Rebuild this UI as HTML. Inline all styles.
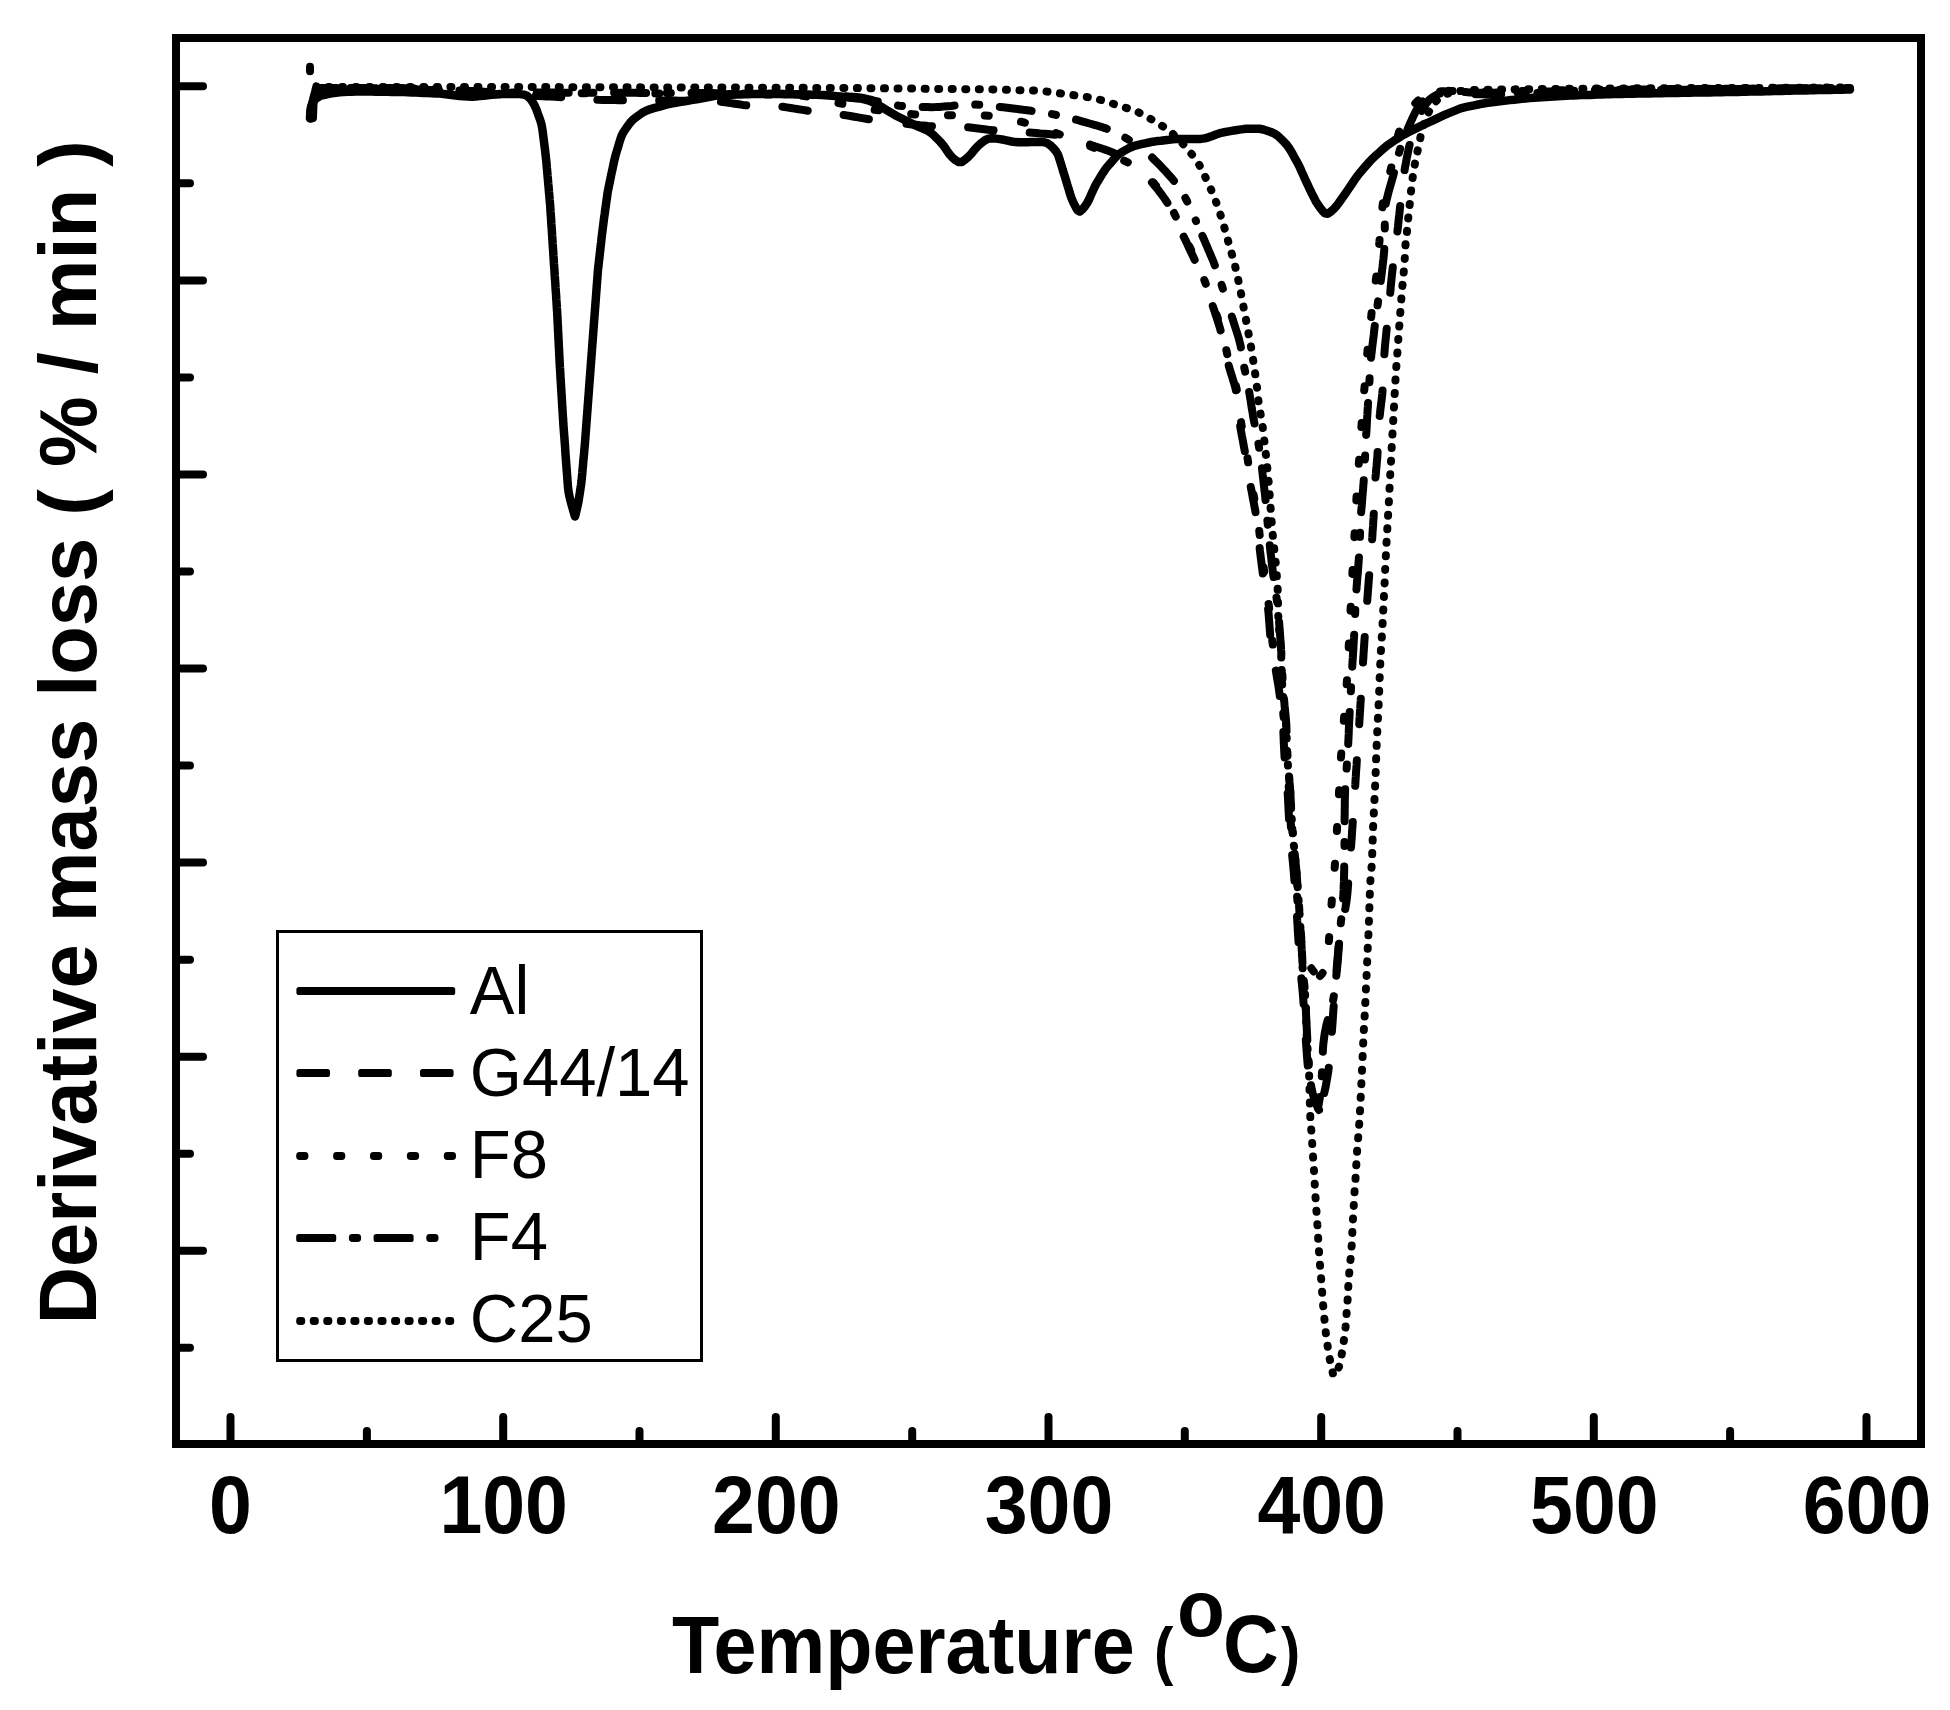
<!DOCTYPE html>
<html lang="en"><head><meta charset="utf-8"><title>Derivative mass loss vs Temperature</title>
<style>html,body{margin:0;padding:0;background:#fff}body{width:1950px;height:1710px;overflow:hidden}svg{display:block}text{font-family:"Liberation Sans",sans-serif;fill:#000}.b{font-weight:bold}.c{fill:none;stroke:#000;stroke-width:8;stroke-linejoin:round}</style></head><body>
<svg width="1950" height="1710" viewBox="0 0 1950 1710">
<rect width="1950" height="1710" fill="#fff"/>
<g class="c" stroke-linecap="round">
<path d="M318,87 322,87 326,87 330,87 334,87 338,87 342,87 346,87 350,87 354,87 358,87 362,87 366,87 370,87 374,87 378,87 382,87 386,87 390,87 394,87 398,87 402,87 406,87 410,87 414,87 418,87 422,87 426,87 430,87 434,87 438,87 442,87 446,87 450,87 454,87 458,87 462,87 466,87 470,87 474,87 478,87 482,87 486,87 490,87 494,87 498,87 502,87 506,87 510,87 514,87 518,87 522,87.1 526.1,87.1 530.1,87.1 534.1,87.1 538.1,87.1 542.1,87.1 546.1,87.1 550.1,87.1 554.1,87.1 558.1,87.1 562.1,87.2 566.1,87.2 570.1,87.2 574.1,87.2 578.1,87.2 582.1,87.2 586.1,87.2 590.1,87.2 594.1,87.2 598.1,87.2 602.1,87.3 606.1,87.3 610.1,87.3 614.1,87.3 618.1,87.3 622.1,87.3 626.1,87.3 630.1,87.3 634.1,87.3 638.1,87.3 642.1,87.4 646.1,87.4 650.1,87.4 654.1,87.4 658.1,87.4 662.1,87.4 666.1,87.4 670.1,87.4 674.1,87.4 678.1,87.4 682.1,87.5 686.1,87.5 690.1,87.5 694.1,87.5 698.1,87.5 702.1,87.5 706.1,87.5 710.1,87.5 714.1,87.5 718.1,87.6 722.1,87.6 726.1,87.6 730.1,87.6 734.1,87.6 738.1,87.6 742.1,87.6 746.1,87.7 750.1,87.7 754.1,87.7 758.1,87.7 762.1,87.7 766.1,87.7 770.1,87.7 774.1,87.7 778.1,87.8 782.1,87.8 786.1,87.8 790.1,87.8 794.1,87.8 798.1,87.8 802.1,87.8 806.1,87.9 810.1,87.9 814.1,87.9 818.1,87.9 822.1,87.9 826.1,87.9 830.1,87.9 834.1,87.9 838.1,88 842.1,88 846.1,88 850.1,88 854.1,88 858.1,88.1 862.1,88.1 866.1,88.2 870.1,88.2 874.1,88.2 878.1,88.3 882.1,88.3 886.1,88.4 890.1,88.4 894.1,88.4 898.1,88.5 902.1,88.5 906.1,88.6 910.1,88.6 914.1,88.6 918.1,88.7 922.1,88.7 926.1,88.8 930.1,88.8 934.1,88.8 938.1,88.9 942.1,88.9 946.1,89 950.1,89 954.1,89 958.1,89.1 962.1,89.1 966.1,89.2 970.2,89.2 974.2,89.2 978.2,89.3 982.2,89.3 986.2,89.4 990.2,89.4 994.2,89.5 998.2,89.5 1002.2,89.6 1006.2,89.7 1010.2,89.8 1014.2,89.9 1018.2,90.1 1022.2,90.2 1026.1,90.3 1030.1,90.4 1034.1,90.6 1038.1,90.8 1042.1,91.1 1046.1,91.5 1050.1,91.9 1054,92.5 1058,93 1062,93.6 1065.9,94.1 1069.9,94.6 1073.9,95.2 1077.8,95.7 1081.8,96.2 1085.7,96.8 1089.7,97.4 1093.6,98.1 1097.5,99 1101.3,100.1 1105.2,101.2 1109,102.5 1112.8,103.7 1116.6,105 1120.4,106.2 1124.2,107.4 1128,108.5 1131.8,109.8 1135.5,111.1 1139.2,112.7 1142.7,114.5 1146.3,116.4 1149.7,118.4 1153.2,120.4 1156.7,122.4 1160.1,124.5 1163.4,126.7 1166.7,129 1169.8,131.4 1172.9,133.9 1175.9,136.6 1178.8,139.3 1181.5,142.2 1184.2,145.2 1186.9,148.2 1189.4,151.3 1191.9,154.4 1194.3,157.6 1196.7,160.8 1198.8,164.1 1200.8,167.6 1202.6,171.1 1204.3,174.8 1205.9,178.4 1207.6,182 1209.2,185.7 1210.9,189.3 1212.5,193 1214,196.7 1215.5,200.4 1216.9,204.2 1218.3,207.9 1219.5,211.7 1220.7,215.5 1221.9,219.4 1223,223.2 1224.2,227 1225.3,230.9 1226.3,234.7 1227.4,238.6 1228.5,242.4 1229.6,246.3 1230.7,250.1 1231.8,254 1232.9,257.8 1234,261.7 1235,265.5 1235.9,269.4 1236.8,273.3 1237.7,277.2 1238.5,281.1 1239.4,285.1 1240.2,289 1240.9,292.9 1241.6,296.8 1242.3,300.8 1243.1,304.7 1243.8,308.6 1244.6,312.6 1245.3,316.5 1246.1,320.4 1246.9,324.4 1247.6,328.3 1248.3,332.2 1249,336.2 1249.7,340.1 1250.5,344 1251.2,348 1251.8,351.9 1252.5,355.9 1253.1,359.8 1253.7,363.8 1254.3,367.7 1254.9,371.7 1255.4,375.6 1256,379.6 1256.5,383.6 1257,387.5 1257.4,391.5 1257.9,395.5 1258.3,399.5 1258.8,403.4 1259.4,407.4 1260,411.3 1260.8,415.3 1261.5,419.2 1262.2,423.1 1262.7,427.1 1263.2,431.1 1263.7,435 1264.1,439 1264.6,443 1265,447 1265.4,450.9 1265.9,454.9 1266.3,458.9 1266.7,462.9 1267.2,466.8 1267.6,470.8 1268,474.8 1268.4,478.8 1268.7,482.8 1269,486.8 1269.3,490.8 1269.6,494.7 1269.9,498.7 1270.2,502.7 1270.5,506.7 1270.8,510.7 1271.1,514.7 1271.4,518.7 1271.7,522.7 1272,526.7 1272.3,530.6 1272.7,534.6 1273.1,538.6 1273.6,542.6 1274,546.6 1274.4,550.5 1274.9,554.5 1275.3,558.5 1275.6,562.5 1276,566.5 1276.3,570.5 1276.7,574.4 1277,578.4 1277.3,582.4 1277.6,586.4 1277.7,590.4 1277.8,594.4 1277.9,598.4 1278,602.4 1278.1,606.4 1278.1,610.4 1278.2,614.4 1278.4,618.4 1278.6,622.4 1278.9,626.4 1279.2,630.4 1279.5,634.4 1279.9,638.3 1280.2,642.3 1280.5,646.3 1280.8,650.3 1281.1,654.3 1281.3,658.3 1281.5,662.3 1281.6,666.3 1281.7,670.3 1281.9,674.3 1282,678.3 1282.1,682.3 1282.3,686.3 1282.6,690.3 1282.9,694.2 1283.4,698.2 1283.8,702.2 1284.3,706.2 1284.8,710.1 1285.2,714.1 1285.6,718.1 1286,722.1 1286.3,726.1 1286.5,730 1286.6,734 1286.7,738 1286.8,742 1286.9,746 1287.1,750 1287.2,754 1287.4,758 1287.7,762 1288,766 1288.4,770 1288.8,774 1289.1,778 1289.5,781.9 1289.9,785.9 1290.2,789.9 1290.4,793.9 1290.6,797.9 1290.9,801.9 1291.1,805.9 1291.3,809.9 1291.5,813.9 1291.7,817.9 1291.9,821.9 1292.1,825.9 1292.4,829.9 1292.8,833.8 1293.1,837.8 1293.5,841.8 1293.9,845.8 1294.3,849.8 1294.7,853.7 1295.1,857.7 1295.5,861.7 1295.9,865.7 1296.3,869.7 1296.6,873.7 1296.9,877.7 1297.2,881.6 1297.5,885.6 1297.8,889.6 1298.1,893.6 1298.4,897.6 1298.7,901.6 1299,905.6 1299.3,909.6 1299.5,913.6 1299.8,917.6 1300,921.6 1300.3,925.5 1300.5,929.5 1300.8,933.5 1301,937.5 1301.3,941.5 1301.5,945.5 1301.7,949.5 1301.9,953.5 1302.1,957.5 1302.2,961.5 1302.4,965.5 1302.7,969.5 1303,973.5 1303.4,977.4 1303.8,981.4 1304.3,985.4 1304.7,989.4 1305,993.4 1305.3,997.3 1305.5,1001.3 1305.6,1005.3 1305.8,1009.3 1305.9,1013.3 1306,1017.3 1306.2,1021.3 1306.3,1025.3 1306.5,1029.3 1306.6,1033.3 1306.8,1037.3 1307,1041.3 1307.3,1045.3 1307.6,1049.3 1307.9,1053.3 1308.2,1057.3 1308.5,1061.3 1308.8,1065.3 1308.9,1069.2 1309.1,1073.2 1309.2,1077.2 1309.3,1081.2 1309.4,1085.2 1309.5,1089.2 1309.6,1093.2 1309.7,1097.2 1309.8,1101.2 1309.9,1105.2 1310,1109.2 1310.2,1113.2 1310.3,1117.2 1310.6,1121.2 1310.9,1125.2 1311.2,1129.2 1311.5,1133.2 1311.8,1137.2 1312.1,1141.2 1312.3,1145.2 1312.6,1149.2 1312.9,1153.2 1313.1,1157.1 1313.4,1161.1 1313.6,1165.1 1313.9,1169.1 1314.1,1173.1 1314.3,1177.1 1314.6,1181.1 1314.8,1185.1 1315,1189.1 1315.3,1193.1 1315.5,1197.1 1315.8,1201.1 1316.1,1205.1 1316.3,1209.1 1316.6,1213 1316.9,1217 1317.2,1221 1317.4,1225 1317.7,1229 1317.9,1233 1318.1,1237 1318.3,1241 1318.6,1245 1318.8,1249 1319.1,1253 1319.4,1257 1319.7,1261 1320,1264.9 1320.3,1268.9 1320.7,1272.9 1321,1276.9 1321.3,1280.9 1321.6,1284.9 1321.9,1288.9 1322.2,1292.9 1322.5,1296.9 1322.8,1300.8 1323.1,1304.8 1323.5,1308.8 1323.8,1312.8 1324.2,1316.8 1324.6,1320.8 1325,1324.8 1325.4,1328.7 1325.8,1332.7 1326.3,1336.7 1326.8,1340.6 1327.4,1344.6 1328,1348.6 1328.6,1352.5 1329.3,1356.5 1330,1360.4 1330.8,1364.3 1331.7,1368.2 1332.6,1372.1 1333.5,1376" stroke-dasharray="1 12.55" stroke-dashoffset="3.1"/>
<path d="M1333.5,1376 1335.8,1372.8 1337.8,1369.5 1339.3,1365.9 1340.3,1362.2 1341.1,1358.3 1341.7,1354.3 1342.4,1350.4 1343,1346.4 1343.6,1342.5 1344.1,1338.5 1344.7,1334.5 1345.2,1330.6 1345.6,1326.6 1345.9,1322.6 1346.2,1318.6 1346.5,1314.6 1346.8,1310.6 1347.1,1306.6 1347.4,1302.6 1347.7,1298.6 1347.9,1294.6 1348.1,1290.6 1348.3,1286.6 1348.5,1282.7 1348.8,1278.7 1349.1,1274.7 1349.4,1270.7 1349.8,1266.7 1350.2,1262.7 1350.6,1258.7 1351,1254.7 1351.3,1250.8 1351.6,1246.8 1351.9,1242.8 1352,1238.8 1352.2,1234.8 1352.4,1230.8 1352.6,1226.8 1352.8,1222.8 1353,1218.8 1353.2,1214.8 1353.4,1210.8 1353.7,1206.8 1353.9,1202.8 1354.1,1198.8 1354.4,1194.8 1354.6,1190.8 1354.9,1186.8 1355.2,1182.8 1355.5,1178.8 1355.8,1174.8 1356,1170.8 1356.2,1166.8 1356.4,1162.8 1356.6,1158.8 1356.9,1154.8 1357.1,1150.8 1357.4,1146.8 1357.8,1142.9 1358.1,1138.9 1358.4,1134.9 1358.7,1130.9 1359,1126.9 1359.3,1122.9 1359.5,1118.9 1359.8,1114.9 1360,1110.9 1360.2,1106.9 1360.4,1102.9 1360.6,1098.9 1360.8,1094.9 1361,1090.9 1361.2,1086.9 1361.4,1082.9 1361.6,1078.9 1361.8,1074.9 1362,1070.9 1362.1,1066.9 1362.3,1062.9 1362.5,1058.9 1362.7,1054.9 1362.9,1050.9 1363,1046.9 1363.2,1042.9 1363.4,1038.9 1363.6,1034.9 1363.8,1030.9 1364,1026.9 1364.3,1022.9 1364.5,1018.9 1364.7,1014.9 1364.9,1010.9 1365.1,1006.9 1365.3,1002.9 1365.5,998.9 1365.7,994.9 1365.8,990.9 1366,986.9 1366.2,982.9 1366.4,978.9 1366.6,974.9 1366.7,970.9 1366.9,966.9 1367.1,962.9 1367.3,958.9 1367.5,954.9 1367.6,950.9 1367.8,946.9 1368,942.9 1368.2,938.9 1368.4,934.9 1368.5,930.9 1368.7,926.9 1368.9,922.9 1369,918.9 1369.2,914.9 1369.3,910.9 1369.4,906.9 1369.5,902.9 1369.7,898.9 1369.8,894.9 1369.9,890.9 1370.1,886.9 1370.3,882.9 1370.5,878.9 1370.9,874.9 1371.2,871 1371.6,867 1371.8,863 1372,859 1372.2,855 1372.3,851 1372.4,847 1372.6,843 1372.7,839 1372.9,835 1373,831 1373.1,827 1373.3,823 1373.5,819 1373.7,815 1373.9,811 1374.1,807 1374.3,803 1374.5,799 1374.7,795 1374.9,791 1375.1,787 1375.2,783 1375.4,779 1375.6,775 1375.7,771 1375.8,767 1376,763 1376.1,759 1376.3,755 1376.4,751 1376.6,747 1376.7,743 1376.9,739 1377.1,735 1377.3,731 1377.5,727 1377.7,723 1377.9,719 1378.1,715 1378.3,711 1378.5,707 1378.7,703 1378.9,699 1379,695 1379.2,691 1379.3,687 1379.5,683 1379.6,679 1379.8,675 1379.9,671 1380.1,667 1380.3,663 1380.5,659 1380.7,655 1380.9,651 1381.2,647 1381.4,643 1381.7,639 1381.9,635 1382.1,631 1382.4,627 1382.6,623 1382.8,619 1383,615 1383.2,611 1383.4,607 1383.6,603 1383.8,599 1384,595 1384.2,591 1384.4,587 1384.6,583 1384.8,579 1385,575 1385.1,571 1385.3,567 1385.5,563 1385.7,559 1385.9,555 1386.1,551 1386.3,547 1386.5,543 1386.7,539 1386.9,535 1387.2,531 1387.4,527 1387.6,523 1387.9,519 1388.1,515 1388.4,511 1388.6,507 1388.8,503 1389,499 1389.2,495 1389.4,491 1389.6,487.1 1389.8,483.1 1390,479.1 1390.2,475.1 1390.4,471.1 1390.7,467.1 1390.9,463.1 1391.1,459.1 1391.3,455.1 1391.5,451.1 1391.7,447.1 1391.9,443.1 1392.2,439.1 1392.4,435.1 1392.6,431.1 1392.8,427.1 1393.1,423.1 1393.3,419.1 1393.5,415.1 1393.7,411.1 1394,407.1 1394.2,403.1 1394.4,399.1 1394.6,395.1 1394.9,391.1 1395.1,387.1 1395.3,383.1 1395.5,379.1 1395.8,375.1 1396.1,371.1 1396.3,367.1 1396.6,363.1 1396.9,359.1 1397.2,355.1 1397.5,351.2 1397.8,347.2 1398.1,343.2 1398.3,339.2 1398.6,335.2 1398.9,331.2 1399.2,327.2 1399.5,323.2 1399.8,319.2 1400.1,315.2 1400.4,311.2 1400.7,307.2 1401,303.2 1401.3,299.2 1401.6,295.2 1402,291.3 1402.3,287.3 1402.7,283.3 1403.1,279.3 1403.5,275.3 1403.8,271.3 1404.1,267.3 1404.4,263.3 1404.7,259.3 1404.9,255.4 1405.1,251.4 1405.3,247.4 1405.6,243.4 1406,239.4 1406.5,235.4 1407,231.4 1407.4,227.5 1407.8,223.5 1408.1,219.5 1408.5,215.5 1408.8,211.5 1409.3,207.6 1409.8,203.6 1410.2,199.6 1410.6,195.6 1411,191.6 1411.4,187.7 1411.9,183.7 1412.4,179.7 1412.9,175.7 1413.5,171.8 1414.2,167.8 1414.9,163.9 1415.6,160 1416.5,156.1 1417.3,152.1 1418.2,148.2 1419,144.3 1419.8,140.4 1420.6,136.5 1421.5,132.6 1422.5,128.7 1423.6,124.9 1424.9,121.1 1426.3,117.4 1427.9,113.7 1429.7,110.2 1431.7,106.8 1434,103.5 1436.6,100.6 1439.5,98 1442.7,95.8 1446.2,94.1 1450,92.8 1453.8,91.9 1457.7,91.3 1461.7,90.9 1465.7,90.5 1469.7,90.2 1473.7,90 1477.7,89.9 1481.7,89.8 1485.7,89.7 1489.7,89.7 1493.7,89.6 1497.7,89.5 1501.7,89.5 1505.7,89.4 1509.7,89.4 1513.7,89.4 1517.7,89.3 1521.7,89.3 1525.7,89.2 1529.7,89.2 1533.7,89.2 1537.7,89.1 1541.7,89.1 1545.7,89 1549.7,89 1553.7,89 1557.7,88.9 1561.7,88.9 1565.7,88.8 1569.7,88.8 1573.7,88.8 1577.7,88.7 1581.7,88.7 1585.7,88.6 1589.8,88.6 1593.8,88.6 1597.8,88.5 1601.8,88.5 1605.8,88.5 1609.8,88.5 1613.8,88.4 1617.8,88.4 1621.8,88.4 1625.8,88.4 1629.8,88.4 1633.8,88.4 1637.8,88.3 1641.8,88.3 1645.8,88.3 1649.8,88.3 1653.8,88.3 1657.8,88.3 1661.8,88.3 1665.8,88.2 1669.8,88.2 1673.8,88.2 1677.8,88.2 1681.8,88.2 1685.8,88.2 1689.8,88.1 1693.8,88.1 1697.9,88.1 1701.9,88.1 1705.9,88.1 1709.9,88.1 1713.9,88 1717.9,88 1721.9,88 1725.9,88 1729.9,88 1733.9,88 1737.9,87.9 1741.9,87.9 1745.9,87.9 1749.9,87.9 1753.9,87.9 1757.9,87.9 1761.9,87.9 1765.9,87.8 1769.9,87.8 1773.9,87.8 1777.9,87.8 1781.9,87.8 1785.9,87.8 1789.9,87.7 1793.9,87.7 1797.9,87.7 1802,87.7 1806,87.7 1810,87.7 1814,87.6 1818,87.6 1822,87.6 1826,87.6 1830,87.6 1834,87.6 1838,87.5 1842,87.5 1846,87.5 1850,87.5" stroke-dasharray="1 12.55" stroke-dashoffset="3.6"/>
<path d="M318,88 322,88 326,88 330,88 334,88 338,88 342,88 346,88 350,88 354,88 358,88 362,88 366,88 370,88 374,88 378,88 382,88 386,88 390,88 394,88 398,88.1 402,88.2 406,88.3 410,88.5 414,88.7 418,88.9 422,89.1 426,89.3 430,89.5 434,89.7 438,89.9 442,90.1 446,90.3 450,90.5 454,90.7 458,90.9 462,91.1 466,91.3 470,91.5 474,91.7 478,91.9 482,92.1 486,92.3 490,92.5 494,92.7 498,92.8 502,92.9 506,93 510,93 514,93 518,93 522,93.1 526,93.1 530,93.1 534,93.1 538,93.1 542,93.1 546,93.1 550,93.1 554,93.1 558,93.1 562,93.2 566,93.2 570,93.2 574,93.2 578,93.2 582,93.2 586,93.2 590,93.2 594,93.2 598,93.2 602,93.3 606,93.3 610,93.3 614,93.3 618,93.3 622,93.3 626,93.3 630,93.3 634,93.3 638,93.3 642,93.4 646,93.4 650,93.4 654,93.4 658,93.4 662,93.4 666,93.4 670,93.4 674.1,93.4 678.1,93.4 682.1,93.5 686.1,93.5 690.1,93.5 694.1,93.5 698.1,93.5 702.1,93.5 706.1,93.6 710.1,93.7 714.1,93.7 718.1,93.8 722.1,93.8 726.1,93.9 730.1,94 734.1,94 738.1,94.1 742.1,94.1 746.1,94.2 750.1,94.3 754.1,94.3 758.1,94.4 762.1,94.4 766.1,94.5 770.1,94.6 774.1,94.6 778.1,94.7 782.1,94.7 786.1,94.8 790.1,94.9 794.1,95 798.1,95.3 802,95.7 806,96.3 809.9,97.1 813.8,97.9 817.7,98.7 821.6,99.6 825.6,100.4 829.5,101.2 833.4,102 837.3,102.8 841.2,103.6 845.2,104.3 849.1,105.1 853,105.8 857,106.6 860.9,107.3 864.8,108.1 868.8,108.8 872.7,109.5 876.7,110.1 880.6,110.6 884.6,111.1 888.6,111.6 892.5,112.1 896.5,112.6 900.5,113 904.5,113.5 908.4,113.9 912.4,114.2 916.4,114.5 920.4,114.6 924.4,114.7 928.4,114.8 932.4,115 936.4,115.1 940.4,115.2 944.4,115.3 948.4,115.3 952.4,115.3 956.4,115.3 960.4,115.3 964.4,115.2 968.4,115.2 972.4,115.1 976.4,115.1 980.4,115.2 984.4,115.4 988.4,115.7 992.3,116.3 996.3,116.9 1000.2,117.6 1004.1,118.4 1008.1,119.1 1012,119.8 1015.9,120.6 1019.8,121.4 1023.7,122.4 1027.5,123.6 1031.3,124.8 1035.1,126 1038.9,127.3 1042.7,128.6 1046.5,129.8 1050.3,131.1 1054.1,132.4 1057.9,133.7 1061.6,135.1 1065.4,136.5 1069.1,137.9 1072.9,139.4 1076.6,140.8 1080.3,142.3 1084,143.7 1087.8,145.2 1091.5,146.7 1095.2,148.2 1098.9,149.7 1102.6,151.3 1106.2,152.9 1109.9,154.5 1113.6,156.1 1117.2,157.7 1120.9,159.3 1124.6,160.9 1128.2,162.6 1131.6,164.5 1135,166.7 1138.2,169 1141.3,171.5 1144.4,174 1147.5,176.6 1150.4,179.3 1153.1,182.2 1155.6,185.2 1158,188.4 1160.4,191.6 1162.8,194.9 1165.1,198.1 1167.4,201.4 1169.6,204.8 1171.6,208.2 1173.4,211.7 1175.1,215.3 1176.8,219 1178.4,222.6 1180,226.3 1181.7,229.9 1183.3,233.6 1185,237.2 1186.7,240.8 1188.4,244.4 1190.2,248 1191.9,251.7 1193.6,255.3 1195.2,258.9 1196.9,262.6 1198.5,266.2 1200.2,269.9 1201.8,273.5 1203.3,277.2 1204.7,281 1206.1,284.7 1207.5,288.5 1208.8,292.2 1210.2,296 1211.5,299.8 1212.8,303.6 1214.1,307.4 1215.4,311.2 1216.6,314.9 1217.9,318.7 1219.2,322.5 1220.4,326.4 1221.5,330.2 1222.6,334 1223.5,337.9 1224.4,341.8 1225.3,345.7 1226.2,349.6 1227.1,353.5 1228,357.4 1229,361.3 1230,365.2 1231.1,369 1232.2,372.9 1233.3,376.7 1234.4,380.6 1235.5,384.4 1236.5,388.3 1237.3,392.2 1237.9,396.1 1238.5,400.1 1238.9,404 1239.4,408 1239.8,412 1240.3,416 1240.8,419.9 1241.3,423.9 1242,427.9 1242.7,431.8 1243.4,435.7 1244.1,439.7 1244.9,443.6 1245.6,447.5 1246.3,451.5 1247,455.4 1247.7,459.4 1248.3,463.3 1249,467.3 1249.6,471.2 1250.3,475.2 1250.9,479.1 1251.5,483.1 1252.2,487 1252.9,490.9 1253.6,494.9 1254.3,498.8 1255,502.8 1255.7,506.7 1256.4,510.6 1257.1,514.6 1257.7,518.5 1258.2,522.5 1258.7,526.5 1259.2,530.5 1259.6,534.4 1260.1,538.4 1260.6,542.4 1261.1,546.3 1261.5,550.3 1262,554.3 1262.5,558.3 1263,562.2 1263.5,566.2 1264,570.2 1264.5,574.1 1265.1,578.1 1265.6,582.1 1266.1,586 1266.7,590 1267.2,594 1267.8,597.9 1268.3,601.9 1268.9,605.9 1269.3,609.8 1269.8,613.8 1270.1,617.8 1270.5,621.8 1270.8,625.8 1271.2,629.8 1271.5,633.7 1271.9,637.7 1272.4,641.7 1273,645.7 1273.6,649.6 1274.2,653.6 1274.9,657.5 1275.5,661.5 1276.1,665.4 1276.8,669.4 1277.4,673.3 1278.1,677.3 1278.7,681.2 1279.3,685.2 1279.9,689.1 1280.5,693.1 1281.1,697 1281.6,701 1282.1,705 1282.6,708.9 1283.2,712.9 1283.6,716.9 1284.1,720.9 1284.4,724.8 1284.7,728.8 1284.9,732.8 1285.1,736.8 1285.2,740.8 1285.4,744.8 1285.6,748.8 1285.8,752.8 1286,756.8 1286.3,760.8 1286.6,764.8 1287,768.8 1287.4,772.7 1287.8,776.7 1288.2,780.7 1288.5,784.7 1288.9,788.7 1289.1,792.7 1289.4,796.7 1289.6,800.7 1289.8,804.7 1290,808.7 1290.2,812.7 1290.4,816.7 1290.6,820.7 1290.8,824.6 1291.1,828.6 1291.4,832.6 1291.8,836.6 1292.2,840.6 1292.6,844.6 1293,848.6 1293.4,852.5 1293.8,856.5 1294.2,860.5 1294.6,864.5 1295,868.5 1295.3,872.5 1295.6,876.4 1295.9,880.4 1296.2,884.4 1296.5,888.4 1296.8,892.4 1297.1,896.4 1297.4,900.4 1297.8,904.4 1298.1,908.4 1298.5,912.3 1298.9,916.3 1299.3,920.3 1299.8,924.3 1300.2,928.3 1300.6,932.2 1301.1,936.2 1301.6,940.2 1302.3,944.1 1303.1,948 1304.1,951.9 1305.3,955.7 1306.6,959.4 1308.2,963.1 1310.1,966.5 1312.3,969.8 1314.8,972.8 1317.6,975.6 1319,977" stroke-dasharray="4 32.8" stroke-dashoffset="30.6"/>
<path d="M1319,977 1321.5,974.5 1323.6,971.6 1325,968.3 1325.9,964.5 1326.7,960.6 1327.2,956.7 1327.7,952.7 1328.1,948.7 1328.5,944.7 1328.9,940.7 1329.2,936.7 1329.5,932.8 1329.8,928.8 1330.1,924.8 1330.4,920.8 1330.6,916.8 1330.9,912.8 1331.2,908.8 1331.5,904.8 1331.8,900.8 1332.1,896.8 1332.5,892.8 1332.8,888.8 1333.2,884.9 1333.5,880.9 1333.9,876.9 1334.2,872.9 1334.6,868.9 1334.9,864.9 1335.1,860.9 1335.4,856.9 1335.6,852.9 1335.9,848.9 1336.1,844.9 1336.3,840.9 1336.5,836.9 1336.8,832.9 1337,828.9 1337.2,824.9 1337.4,820.9 1337.7,816.9 1337.9,812.9 1338.1,808.9 1338.3,805 1338.5,801 1338.8,797 1339,793 1339.2,789 1339.4,785 1339.6,781 1339.9,777 1340.1,773 1340.3,769 1340.5,765 1340.7,761 1341,757 1341.3,753 1341.6,749 1341.9,745 1342.2,741 1342.5,737 1342.8,733 1343.2,729 1343.5,725 1343.8,721.1 1344.1,717.1 1344.4,713.1 1344.8,709.1 1345.1,705.1 1345.4,701.1 1345.7,697.1 1346,693.1 1346.3,689.1 1346.6,685.1 1346.9,681.1 1347.2,677.1 1347.4,673.2 1347.6,669.2 1347.8,665.2 1348,661.2 1348.2,657.2 1348.4,653.2 1348.6,649.2 1348.8,645.2 1349,641.2 1349.2,637.2 1349.4,633.2 1349.6,629.2 1349.8,625.2 1350,621.2 1350.2,617.2 1350.4,613.2 1350.6,609.2 1350.8,605.2 1351,601.2 1351.2,597.2 1351.4,593.2 1351.6,589.2 1351.8,585.2 1352,581.2 1352.2,577.2 1352.4,573.2 1352.7,569.2 1352.9,565.2 1353.1,561.2 1353.3,557.2 1353.5,553.2 1353.7,549.2 1353.9,545.2 1354.1,541.2 1354.4,537.2 1354.6,533.2 1354.8,529.2 1355,525.2 1355.2,521.2 1355.4,517.2 1355.6,513.2 1355.8,509.2 1356.1,505.2 1356.3,501.2 1356.5,497.2 1356.8,493.2 1357,489.2 1357.3,485.2 1357.6,481.2 1357.9,477.3 1358.1,473.3 1358.4,469.3 1358.7,465.3 1359,461.3 1359.3,457.3 1359.5,453.3 1359.8,449.3 1360.1,445.3 1360.4,441.3 1360.6,437.3 1360.9,433.3 1361.2,429.3 1361.5,425.3 1361.8,421.3 1362.1,417.3 1362.4,413.4 1362.8,409.4 1363.1,405.4 1363.4,401.4 1363.7,397.4 1364,393.4 1364.3,389.4 1364.7,385.4 1365,381.4 1365.3,377.4 1365.6,373.4 1365.9,369.5 1366.3,365.5 1366.6,361.5 1366.9,357.5 1367.3,353.5 1367.6,349.5 1368,345.5 1368.4,341.5 1368.9,337.6 1369.3,333.6 1369.7,329.6 1370.2,325.6 1370.6,321.6 1371.1,317.7 1371.5,313.7 1371.9,309.7 1372.4,305.7 1372.9,301.8 1373.4,297.8 1373.9,293.8 1374.5,289.9 1375.1,285.9 1375.6,281.9 1376.1,278 1376.6,274 1377,270 1377.3,266 1377.7,262 1378,258 1378.3,254 1378.7,250.1 1379,246.1 1379.4,242.1 1379.7,238.1 1380.1,234.1 1380.4,230.1 1380.7,226.1 1381.1,222.1 1381.4,218.1 1381.8,214.2 1382.1,210.2 1382.5,206.2 1383,202.2 1383.7,198.3 1384.5,194.4 1385.5,190.5 1386.4,186.6 1387.4,182.7 1388.4,178.9 1389.4,175 1390.4,171.1 1391.3,167.2 1392.2,163.3 1393,159.4 1393.8,155.5 1394.6,151.5 1395.4,147.6 1396.2,143.7 1397.1,139.8 1397.9,135.9 1399,132.1 1400.3,128.3 1401.8,124.6 1403.5,121 1405.3,117.5 1407.2,113.9 1409.2,110.6 1411.6,107.4 1414.2,104.4 1417,101.6 1420,99 1423.2,96.7 1426.6,94.8 1430.2,93.3 1434,92.1 1437.8,91.4 1441.7,90.9 1445.7,90.8 1449.7,90.9 1453.7,91 1457.7,91.2 1461.7,91.4 1465.7,91.6 1469.7,91.8 1473.7,91.8 1477.7,91.8 1481.7,91.8 1485.7,91.7 1489.7,91.6 1493.7,91.5 1497.7,91.4 1501.7,91.4 1505.7,91.3 1509.7,91.2 1513.7,91.1 1517.7,91 1521.7,91 1525.7,90.9 1529.7,90.8 1533.7,90.7 1537.7,90.7 1541.7,90.6 1545.7,90.5 1549.7,90.4 1553.7,90.4 1557.7,90.3 1561.7,90.2 1565.7,90.1 1569.8,90.1 1573.8,90 1577.8,89.9 1581.8,89.8 1585.8,89.8 1589.8,89.7 1593.8,89.6 1597.8,89.6 1601.8,89.5 1605.8,89.5 1609.8,89.4 1613.8,89.4 1617.8,89.4 1621.8,89.4 1625.8,89.3 1629.8,89.3 1633.8,89.3 1637.8,89.3 1641.8,89.2 1645.8,89.2 1649.8,89.2 1653.8,89.2 1657.8,89.2 1661.8,89.1 1665.8,89.1 1669.8,89.1 1673.8,89.1 1677.8,89 1681.8,89 1685.9,89 1689.9,89 1693.9,88.9 1697.9,88.9 1701.9,88.9 1705.9,88.9 1709.9,88.8 1713.9,88.8 1717.9,88.8 1721.9,88.8 1725.9,88.7 1729.9,88.7 1733.9,88.7 1737.9,88.7 1741.9,88.6 1745.9,88.6 1749.9,88.6 1753.9,88.6 1757.9,88.6 1761.9,88.5 1765.9,88.5 1769.9,88.5 1773.9,88.5 1777.9,88.4 1781.9,88.4 1785.9,88.4 1789.9,88.4 1793.9,88.3 1798,88.3 1802,88.3 1806,88.3 1810,88.2 1814,88.2 1818,88.2 1822,88.2 1826,88.1 1830,88.1 1834,88.1 1838,88.1 1842,88 1846,88 1850,88" stroke-dasharray="4 32.8" stroke-dashoffset="35.4"/>
<path d="M313,118 313.1,114 313.3,110 313.4,105.9 313.8,101.9 314.3,97.9 314.8,93.9 315.4,90 316.4,86.2 318.9,86.3 320,88" stroke-dasharray="32 20.7 4 20.7" stroke-dashoffset="0.0"/>
<path d="M320,88 324,88 328,88 332,88 336,88 340,88 344,88 348,88 352,88 356,88 360,88 364,88 368.1,88 372.1,88 376.1,88 380.1,88 384.1,88 388.1,88 392.1,88 396.1,88 400.1,88.1 404.1,88.2 408.1,88.3 412.1,88.5 416.1,88.6 420.1,88.8 424.1,89 428.1,89.1 432.1,89.3 436.1,89.4 440.1,89.6 444.1,89.8 448.1,89.9 452.1,90.1 456.1,90.3 460.1,90.5 464.1,90.7 468.1,90.9 472.1,91.1 476.1,91.3 480.1,91.5 484.1,91.7 488.1,91.9 492.1,92.1 496.1,92.3 500.1,92.4 504.1,92.5 508.1,92.5 512.1,92.5 516.1,92.5 520.1,92.6 524.1,92.6 528.1,92.6 532.1,92.6 536.1,92.6 540.1,92.6 544.1,92.6 548.2,92.6 552.2,92.6 556.2,92.6 560.2,92.7 564.2,92.7 568.2,92.7 572.2,92.7 576.2,92.7 580.2,92.7 584.2,92.7 588.2,92.7 592.2,92.7 596.2,92.7 600.2,92.8 604.2,92.8 608.2,92.8 612.2,92.8 616.2,92.8 620.2,92.8 624.2,92.8 628.2,92.8 632.2,92.8 636.2,92.8 640.3,92.9 644.3,92.9 648.3,92.9 652.3,92.9 656.3,92.9 660.3,92.9 664.3,92.9 668.3,92.9 672.3,92.9 676.3,92.9 680.3,93 684.3,93 688.3,93 692.3,93 696.3,93 700.3,93 704.3,93 708.3,93.1 712.3,93.1 716.3,93.2 720.3,93.2 724.3,93.2 728.3,93.3 732.4,93.3 736.4,93.4 740.4,93.4 744.4,93.4 748.4,93.5 752.4,93.5 756.4,93.6 760.4,93.6 764.4,93.6 768.4,93.7 772.4,93.7 776.4,93.8 780.4,93.8 784.4,93.8 788.4,93.9 792.4,93.9 796.4,94 800.4,94.1 804.4,94.3 808.4,94.4 812.4,94.6 816.4,94.8 820.4,95 824.4,95.2 828.4,95.4 832.4,95.6 836.4,95.8 840.4,96 844.4,96.2 848.4,96.4 852.4,96.7 856.4,97 860.3,97.5 864.3,98.2 868.2,99.1 872.1,100 875.9,101 879.8,102 883.7,102.9 887.6,103.8 891.5,104.6 895.5,105.2 899.4,105.7 903.4,106 907.4,106.2 911.4,106.4 915.4,106.6 919.4,106.8 923.4,107 927.4,107.1 931.4,107.2 935.4,107.1 939.4,106.9 943.4,106.6 947.4,106.2 951.3,105.9 955.3,105.5 959.3,105.1 963.3,104.8 967.3,104.6 971.3,104.5 975.3,104.6 979.3,104.8 983.2,105.2 987.2,105.6 991.2,106 995.2,106.4 999.2,106.9 1003.2,107.3 1007.1,107.7 1011.1,108.2 1015.1,108.7 1019,109.2 1023,109.8 1027,110.3 1031,110.8 1034.9,111.4 1038.9,111.9 1042.8,112.5 1046.8,113.1 1050.7,113.8 1054.7,114.6 1058.6,115.5 1062.5,116.4 1066.4,117.3 1070.3,118.2 1074.2,119.2 1078,120.2 1081.9,121.3 1085.7,122.4 1089.6,123.5 1093.4,124.6 1097.3,125.7 1101.1,126.8 1104.9,128.1 1108.6,129.5 1112.3,131.1 1115.9,132.8 1119.5,134.6 1123,136.5 1126.5,138.4 1129.9,140.5 1133.3,142.6 1136.7,144.8 1140,147" stroke-dasharray="32 20.7 4 20.7" stroke-dashoffset="15.4"/>
<path d="M1140,147 1143.1,149.5 1146.2,152.1 1149.2,154.7 1152.1,157.5 1154.9,160.3 1157.8,163.1 1160.6,166 1163.3,168.9 1166.1,171.8 1168.7,174.8 1171.4,177.8 1174,180.9 1176.6,183.9 1179,187.1 1181.2,190.4 1183.2,193.8 1185.1,197.4 1186.9,200.9 1188.7,204.5 1190.5,208.1 1192.1,211.8 1193.7,215.4 1195.2,219.1 1196,221" stroke-dasharray="32 20.7 4 20.7" stroke-dashoffset="61.4"/>
<path d="M1196,221 1197.6,224.7 1199.2,228.5 1200.8,232.2 1202.5,236 1204.1,239.7 1205.7,243.5 1207.3,247.2 1208.9,251 1210.5,254.7 1212.1,258.5 1213.7,262.3 1215.1,266.1 1216.6,269.9 1217.9,273.7 1219.2,277.6 1220.5,281.5 1221.8,285.4 1223,289.2 1224.2,293.1 1225.4,297 1226,299" stroke-dasharray="32 20.7 4 20.7" stroke-dashoffset="61.2"/>
<path d="M1226,299 1227.3,302.8 1228.5,306.6 1229.8,310.4 1231,314.2 1232.3,318 1233.5,321.8 1234.7,325.6 1235.9,329.4 1237.2,333.3 1238.4,337.1 1239.4,340.9 1240.4,344.8 1241.1,348.7 1241.8,352.7 1242.4,356.6 1243,360.6 1243.7,364.5 1244.4,368.4 1245.3,372.4 1246.1,376.3 1246.9,380.2 1247.7,384.1 1248.5,388 1249.2,392 1249.8,395.9 1250.5,399.9 1251.1,403.8 1251.7,407.8 1252.4,411.7 1253,415.7 1253.7,419.6 1254.5,423.5 1255.3,427.5 1256.1,431.4 1256.9,435.3 1257.7,439.2 1258.4,443.2 1259,447.1 1259.6,451.1 1260.2,455 1260.8,459 1261.3,463 1261.8,466.9 1262.3,470.9 1262.7,474.9 1263.2,478.9 1263.6,482.9 1264.1,486.8 1264.5,490.8 1265,494.8 1265.4,498.8 1265.8,502.8 1266.1,506.7 1266.5,510.7 1266.9,514.7 1267.2,518.7 1267.6,522.7 1268,526.7 1268.3,530.7 1268.7,534.6 1269.1,538.6 1269.5,542.6 1269.9,546.6 1270.3,550.6 1270.8,554.5 1271.3,558.5 1271.7,562.5 1272.2,566.5 1272.7,570.5 1273.2,574.4 1273.7,578.4 1274.3,582.4 1274.9,586.3 1275.5,590.3 1276.1,594.2 1276.6,598.2 1277.1,602.2 1277.6,606.1 1278,610.1 1278.4,614.1 1278.8,618.1 1279.1,622.1 1279.4,626.1 1279.7,630.1 1280,634 1280.3,638 1280.6,642 1280.9,646 1281.1,650 1281.4,654 1281.6,658 1281.8,662 1282,666 1282.2,670 1282.3,674 1282.5,678 1282.7,682 1282.9,686 1283.2,690 1283.5,694 1283.9,698 1284.3,702 1284.6,705.9 1285,709.9 1285.4,713.9 1285.8,717.9 1286.1,721.9 1286.3,725.9 1286.5,729.9 1286.7,733.9 1286.8,737.9 1286.9,741.9 1287.1,745.9 1287.2,749.9 1287.4,753.9 1287.6,757.9 1287.8,761.9 1288.1,765.9 1288.5,769.8 1288.8,773.8 1289.2,777.8 1289.5,781.8 1289.9,785.8 1290.2,789.8 1290.4,793.8 1290.6,797.8 1290.8,801.8 1291,805.8 1291.2,809.8 1291.5,813.8 1291.7,817.8 1291.9,821.8 1292.1,825.8 1292.4,829.8 1292.8,833.7 1293.1,837.7 1293.5,841.7 1293.9,845.7 1294.3,849.7 1294.7,853.7 1295.1,857.6 1295.5,861.6 1295.9,865.6 1296.3,869.6 1296.6,873.6 1296.9,877.6 1297.2,881.6 1297.5,885.6 1297.8,889.6 1298.1,893.5 1298.4,897.5 1298.7,901.5 1299,905.5 1299.3,909.5 1299.5,913.5 1299.8,917.5 1300,921.5 1300.3,925.5 1300.5,929.5 1300.8,933.5 1301,937.5 1301.3,941.5 1301.5,945.5 1301.7,949.5 1302,953.5 1302.2,957.5 1302.4,961.5 1302.6,965.5 1302.8,969.5 1303.1,973.4 1303.5,977.4 1303.9,981.4 1304.4,985.4 1304.7,989.4 1305.1,993.4 1305.4,997.4 1305.6,1001.4 1305.7,1005.3 1305.9,1009.3 1306,1013.3 1306.2,1017.3 1306.4,1021.3 1306.6,1025.3 1306.8,1029.3 1307,1033.3 1307.2,1037.3 1307.4,1041.3 1307.6,1045.3 1307.9,1049.3 1308.1,1053.3 1308.3,1057.3 1308.5,1061.3 1308.8,1065.3 1309.1,1069.3 1309.5,1073.3 1310,1077.3 1310.5,1081.2 1311,1085.2 1311.7,1089.1 1312.6,1093 1313.7,1096.8 1315.1,1100.6 1316.5,1104.3 1318,1108" stroke-dasharray="32 20.7 4 20.7" stroke-dashoffset="58.8"/>
<path d="M1318,1108 1318.7,1104.1 1319.4,1100.1 1320.1,1096.2 1320.6,1092.2 1321,1088.2 1321.3,1084.2 1321.6,1080.3 1321.8,1076.3 1322,1072.3 1322.2,1068.3 1322.4,1064.3 1322.5,1060.3 1322.6,1056.3 1322.8,1052.3 1323,1048.3 1323.3,1044.3 1323.8,1040.3 1324.3,1036.3 1324.9,1032.4 1325.7,1028.5 1326.5,1024.6 1327.6,1020.7 1328.7,1016.9 1329.9,1013.1 1331,1009.2 1332,1005.4 1332.9,1001.5 1333.6,997.5 1334.2,993.6 1334.7,989.6 1335.2,985.6 1335.6,981.7 1336.1,977.7 1336.5,973.7 1336.9,969.7 1337.3,965.7 1337.7,961.8 1338,957.8 1338.3,953.8 1338.6,949.8 1338.9,945.8 1339.3,941.8 1339.6,937.8 1339.9,933.8 1340.2,929.8 1340.6,925.8 1340.9,921.8 1341.4,917.9 1341.8,913.9 1342.2,909.9 1342.6,905.9 1342.9,901.9 1343.2,897.9 1343.4,893.9 1343.6,889.9 1343.7,885.9 1343.9,881.9 1344,877.9 1344.1,873.9 1344.2,869.9 1344.2,865.9 1344.3,861.9 1344.4,857.9 1344.4,853.9 1344.5,849.9 1344.5,845.9 1344.5,841.9 1344.5,837.9 1344.5,833.9 1344.5,829.9 1344.5,825.9 1344.6,821.9 1344.6,817.9 1344.7,813.9 1344.7,809.9 1344.8,805.9 1344.8,801.9 1344.9,797.9 1345,793.9 1345.1,789.9 1345.4,785.9 1345.6,781.9 1345.9,777.9 1346.2,773.9 1346.5,769.9 1346.8,765.9 1347.1,761.9 1347.3,757.9 1347.6,753.9 1347.9,749.9 1348.1,745.9 1348.3,741.9 1348.5,737.9 1348.7,733.9 1348.8,729.9 1349,725.9 1349.2,721.9 1349.4,717.9 1349.6,713.9 1349.8,709.9 1350,706 1350.2,702 1350.5,698 1350.7,694 1350.9,690 1351.1,686 1351.4,682 1351.6,678 1351.8,674 1352.1,670 1352.3,666 1352.5,662 1352.8,658 1353,654 1353.3,650 1353.5,646 1353.7,642 1354,638 1354.2,634 1354.4,630 1354.5,626 1354.7,622 1354.9,618 1355.1,614 1355.3,610 1355.5,606 1355.6,602 1355.9,598 1356.1,594 1356.4,590 1356.7,586 1357,582 1357.3,578.1 1357.7,574.1 1358,570.1 1358.3,566.1 1358.6,562.1 1358.9,558.1 1359.1,554.1 1359.3,550.1 1359.5,546.1 1359.7,542.1 1359.9,538.1 1360,534.1 1360.2,530.1 1360.4,526.1 1360.6,522.1 1360.8,518.1 1361,514.1 1361.3,510.1 1361.7,506.1 1362,502.1 1362.3,498.1 1362.6,494.2 1363,490.2 1363.3,486.2 1363.6,482.2 1363.9,478.2 1364.1,474.2 1364.3,470.2 1364.5,466.2 1364.7,462.2 1365,458.2 1365.2,454.2 1365.4,450.2 1365.6,446.2 1365.8,442.2 1366,438.2 1366.2,434.2 1366.5,430.2 1366.7,426.2 1366.9,422.2 1367.1,418.2 1367.4,414.2 1367.6,410.2 1367.9,406.2 1368.1,402.2 1368.4,398.2 1368.6,394.2 1368.9,390.3 1369.1,386.3 1369.4,382.3 1369.6,378.3 1369.9,374.3 1370.1,370.3 1370.4,366.3 1370.7,362.3 1371,358.3 1371.4,354.3 1371.9,350.3 1372.3,346.4 1372.8,342.4 1373.3,338.4 1373.8,334.4 1374.2,330.5 1374.7,326.5 1375.2,322.5 1375.8,318.5 1376.3,314.6 1376.8,310.6 1377.4,306.6 1377.9,302.7 1378.4,298.7 1379,294.7 1379.5,290.8 1380,286.8 1380.6,282.8 1381,278.9 1381.5,274.9 1382,270.9 1382.5,266.9 1382.9,263 1383.4,259 1383.8,255 1384.2,251 1384.4,247 1384.6,243 1384.7,239 1384.7,235 1384.8,231 1384.8,227 1384.8,223 1384.9,219 1384.9,215 1385.1,211 1385.3,207.1 1385.9,203.1 1386.7,199.2 1387.7,195.4 1388.7,191.5 1389.8,187.7 1390.9,183.8 1392,180 1393.1,176.1 1394.1,172.2 1395.1,168.4 1396,164.5 1397,160.6 1397.9,156.7 1399,152.8 1400.1,149 1401.4,145.2 1402.8,141.5 1404.2,137.7 1405.7,134 1407.2,130.3 1408.7,126.6 1410.3,122.9 1412,119.3 1413.6,115.7 1415.4,112.1 1417.3,108.6 1419.5,105.3 1421.9,102.2 1424.6,99.3 1427.6,96.8 1430.8,94.6 1434.2,93 1438,91.9 1441.8,91.3 1445.8,91.1 1449.7,91.2 1453.7,91.4 1457.7,91.6 1461.7,91.9 1465.7,92.1 1469.7,92.4 1473.7,92.6 1477.7,92.7 1481.7,92.8 1485.7,92.8 1489.7,92.8 1493.7,92.7 1497.7,92.6 1501.7,92.6 1505.7,92.5 1509.7,92.4 1513.7,92.3 1517.7,92.2 1521.7,92.2 1525.7,92.1 1529.7,92 1533.7,91.9 1537.7,91.8 1541.7,91.7 1545.8,91.5 1549.8,91.4 1553.8,91.3 1557.8,91.2 1561.8,91.1 1565.8,91 1569.8,90.9 1573.8,90.7 1577.8,90.6 1581.8,90.5 1585.8,90.4 1589.8,90.3 1593.8,90.2 1597.8,90.1 1601.8,90 1605.8,90 1609.8,89.9 1613.8,89.9 1617.8,89.8 1621.8,89.8 1625.8,89.7 1629.8,89.7 1633.8,89.7 1637.8,89.6 1641.8,89.6 1645.8,89.5 1649.8,89.5 1653.8,89.5 1657.8,89.4 1661.8,89.4 1665.8,89.3 1669.8,89.3 1673.8,89.3 1677.8,89.2 1681.9,89.2 1685.9,89.1 1689.9,89.1 1693.9,89.1 1697.9,89 1701.9,89 1705.9,89 1709.9,88.9 1713.9,88.9 1717.9,88.9 1721.9,88.9 1725.9,88.8 1729.9,88.8 1733.9,88.8 1737.9,88.7 1741.9,88.7 1745.9,88.7 1749.9,88.7 1753.9,88.6 1757.9,88.6 1761.9,88.6 1765.9,88.6 1769.9,88.5 1773.9,88.5 1777.9,88.5 1781.9,88.5 1785.9,88.4 1789.9,88.4 1793.9,88.4 1798,88.3 1802,88.3 1806,88.3 1810,88.3 1814,88.2 1818,88.2 1822,88.2 1826,88.2 1830,88.1 1834,88.1 1838,88.1 1842,88.1 1846,88 1850,88" stroke-dasharray="32 20.7 4 20.7" stroke-dashoffset="20.8"/>
<path d="M311.5,118.5 311.6,114.3 311.8,110.1 311.9,105.9 312.5,101.8 313.4,97.7 314.5,93.7 316.7,90.2 318,88.5" stroke-dasharray="25.6 36.2" stroke-dashoffset="0.0"/>
<path d="M318,88.5 322,88.4 326,88.3 330,88.2 334,88.2 338.1,88.1 342.1,88.1 346.1,88.1 350.1,88.1 354.1,88.1 358.1,88.2 362.1,88.2 366.2,88.2 370.2,88.3 374.2,88.3 378.2,88.3 382.2,88.4 386.2,88.4 390.2,88.4 394.2,88.5 398.3,88.6 402.3,88.7 406.3,88.8 410.3,89 414.3,89.2 418.3,89.4 422.3,89.6 426.3,89.8 430.3,90 434.3,90.2 438.3,90.4 442.4,90.6 446.4,90.8 450.4,91.1 454.4,91.3 458.4,91.6 462.4,91.9 466.4,92.1 470.4,92.4 474.4,92.7 478.4,93 482.4,93.3 486.4,93.5 490.4,93.8 494.4,94.1 498.4,94.3 502.4,94.6 506.4,94.8 510.4,94.9 514.5,95.1 518.5,95.3 522.5,95.4 526.5,95.6 530.5,95.8 534.5,95.9 538.5,96.1 542.5,96.3 546.5,96.4 550.5,96.6 554.6,96.8 558.6,97 562.6,97.2 566.6,97.5 570.6,97.8 574.6,98.1 578.6,98.4 582.6,98.7 586.6,99 590.6,99.3 594.6,99.6 598.6,99.8 602.6,99.9 606.6,100 610.6,100.1 614.6,100.1 618.7,100.2 622.7,100.2 626.7,100.2 630.7,100.3 634.7,100.3 638.7,100.3 642.7,100.4 646.7,100.4 650.8,100.4 654.8,100.5 658.8,100.5 662.8,100.5 666.8,100.6 670.8,100.6 674.8,100.6 678.9,100.7 682.9,100.7 686.9,100.7 690.9,100.8 694.9,100.8 698.9,100.8 702.9,100.9 706.9,100.9 711,101 715,101.2 718.9,101.5 722.9,102 726.9,102.5 730.9,103.1 734.8,103.7 738.8,104.3 742.8,104.9 746.8,105.3 750.7,105.7 754.7,105.9 758.7,106 762.8,106 766.8,106 770.8,106 774.8,106.2 778.8,106.4 782.8,106.8 786.7,107.4 790.7,108 794.7,108.6 798.6,109.3 802.6,109.9 806.5,110.5 810.5,111.1 814.5,111.6 818.5,112.1 822.5,112.5 826.5,112.9 830.5,113.3 834.4,113.8 838.4,114.2 842.4,114.8 846.4,115.4 850.3,116 854.3,116.7 858.2,117.4 862.2,118.1 866.1,118.8 870.1,119.4 874.1,120 878,120.6 882,121.1 886,121.6 888,121.8" stroke-dasharray="25.6 36.2" stroke-dashoffset="29.3"/>
<path d="M888,121.8 892,122.3 896,122.7 900,123.2 904,123.6 908,124 912,124.4 916,124.8 920,125.3 924,125.6 928,126 932,126.3 936.1,126.5 940.1,126.6 944.1,126.7 948.1,126.7 952.1,126.7 956.2,126.7 960.2,126.8 964.2,127 968.2,127.3 972.2,127.8 976.2,128.3 980.2,128.8 984.2,129.3 988.2,129.8 992.2,130.2 996.2,130.6 1000.2,130.9 1004.2,131.2 1008.2,131.4 1012.2,131.5 1016.3,131.7 1020.3,131.9 1024.3,132.1 1028.3,132.4 1032.3,132.7 1036.3,133 1040.4,133.4 1044.4,133.7 1048.4,134.1 1052.4,134.5 1056.4,135 1060.3,135.7 1064.2,136.6 1068,137.7 1071.9,138.9 1075.7,140.1 1079.6,141.3 1083.4,142.5 1087.2,143.8 1091.1,145 1094.9,146.3 1098.7,147.5 1102.5,148.8 1106.3,150.1 1110.1,151.5 1113.8,153 1117.3,154.8 1120.8,156.9 1124.1,159.1 1127.4,161.4 1130.7,163.7 1134,166" stroke-dasharray="25.6 36.2" stroke-dashoffset="43.2"/>
<path d="M1134,166 1137.1,168.6 1140.2,171.3 1143.3,173.9 1146.3,176.6 1149.2,179.5 1152,182.5 1154.6,185.6 1157.2,188.7 1159.7,192 1162.1,195.2 1164.5,198.5 1166.8,201.9 1169,205.4 1171,208.9 1172.7,212.5 1174.4,216.2 1176,220" stroke-dasharray="25.6 36.2" stroke-dashoffset="37.4"/>
<path d="M1176,220 1177.7,223.7 1179.4,227.4 1181.1,231.1 1182.9,234.8 1184.6,238.5 1186.4,242.1 1188.1,245.8 1189.8,249.5 1191.6,253.2 1193.3,256.9 1195,260.6 1196.7,264.3 1198.4,268 1200.1,271.7 1201.6,275.5 1203,279.3 1204.2,283.2 1205.4,287 1206,289" stroke-dasharray="25.6 36.2" stroke-dashoffset="43.5"/>
<path d="M1206,289 1207.6,292.7 1209.1,296.4 1210.6,300.1 1212,303.8 1213.3,307.6 1214.6,311.4 1215.8,315.2 1217.1,319 1218.3,322.8 1219.5,326.6 1220.6,330.5 1221.6,334.3 1222.5,338.2 1223.3,342.1 1224.2,346 1225,350 1225.8,353.9 1226.7,357.8 1227.6,361.6 1228.7,365.5 1229.8,369.3 1231,373.2 1232.2,377 1233.3,380.8 1234.5,384.6 1235.5,388.5 1236.3,392.4 1236.9,396.3 1237.4,400.3 1237.8,404.3 1238.2,408.2 1238.5,412.2 1238.9,416.2 1239.4,420.2 1239.9,424.1 1240.5,428.1 1241.2,432 1241.9,436 1242.7,439.9 1243.4,443.8 1244.1,447.7 1244.9,451.7 1245.6,455.6 1246.2,459.6 1246.9,463.5 1247.5,467.5 1248.2,471.4 1248.8,475.4 1249.5,479.3 1250.1,483.2 1250.8,487.2 1251.6,491.1 1252.3,495 1253,499 1253.8,502.9 1254.5,506.8 1255.3,510.8 1255.9,514.7 1256.5,518.7 1257,522.6 1257.4,526.6 1257.8,530.6 1258.2,534.6 1258.6,538.5 1259,542.5 1259.5,546.5 1259.9,550.5 1260.4,554.4 1260.9,558.4 1261.4,562.4 1261.9,566.4 1262.4,570.3 1262.9,574.3 1263.5,578.3 1264.1,582.2 1264.7,586.2 1265.3,590.1 1265.9,594.1 1266.5,598 1267.1,602 1267.7,605.9 1268.2,609.9 1268.6,613.9 1268.9,617.9 1269.2,621.8 1269.5,625.8 1269.8,629.8 1270.1,633.8 1270.4,637.8 1270.9,641.8 1271.5,645.7 1272.1,649.7 1272.8,653.6 1273.5,657.5 1274.2,661.5 1274.9,665.4 1275.6,669.4 1276.3,673.3 1276.9,677.2 1277.6,681.2 1278.3,685.1 1278.9,689.1 1279.4,693 1279.9,697 1280.4,701 1280.9,705 1281.3,708.9 1281.8,712.9 1282.2,716.9 1282.6,720.9 1283,724.8 1283.2,728.8 1283.4,732.8 1283.6,736.8 1283.7,740.8 1283.9,744.8 1284.1,748.8 1284.3,752.8 1284.5,756.8 1284.8,760.8 1285.1,764.8 1285.5,768.8 1285.9,772.7 1286.3,776.7 1286.7,780.7 1287,784.7 1287.4,788.7 1287.6,792.7 1287.9,796.6 1288.1,800.6 1288.3,804.6 1288.5,808.6 1288.7,812.6 1288.9,816.6 1289.1,820.6 1289.3,824.6 1289.6,828.6 1289.9,832.6 1290.3,836.6 1290.7,840.5 1291.1,844.5 1291.5,848.5 1291.9,852.5 1292.3,856.5 1292.7,860.4 1293.1,864.4 1293.4,868.4 1293.8,872.4 1294.1,876.4 1294.4,880.4 1294.7,884.4 1295,888.3 1295.3,892.3 1295.6,896.3 1295.9,900.3 1296.2,904.3 1296.5,908.3 1296.7,912.3 1297,916.3 1297.2,920.3 1297.5,924.3 1297.7,928.3 1297.9,932.3 1298.2,936.2 1298.4,940.2 1298.7,944.2 1298.9,948.2 1299.2,952.2 1299.4,956.2 1299.7,960.2 1300,964.2 1300.3,968.2 1300.7,972.2 1301.1,976.1 1301.5,980.1 1301.9,984.1 1302.3,988.1 1302.7,992.1 1303,996 1303.3,1000 1303.6,1004 1303.8,1008 1304,1012 1304.3,1016 1304.5,1020 1304.8,1024 1305,1028 1305.3,1032 1305.5,1036 1305.8,1039.9 1306.1,1043.9 1306.4,1047.9 1306.7,1051.9 1307,1055.9 1307.3,1059.9 1307.6,1063.9 1308,1067.9 1308.4,1071.8 1309,1075.8 1309.6,1079.7 1310.2,1083.7 1310.9,1087.6 1311.7,1091.5 1312.8,1095.3 1314.1,1099.1 1315.7,1102.7 1317.3,1106.4 1319,1110" stroke-dasharray="25.6 36.2" stroke-dashoffset="43.5"/>
<path d="M1319,1110 1320.3,1106.2 1321.5,1102.4 1322.7,1098.6 1323.8,1094.7 1324.7,1090.9 1325.6,1087 1326.3,1083 1327,1079.1 1327.7,1075.1 1328.3,1071.2 1328.8,1067.2 1329.3,1063.3 1329.8,1059.3 1330.1,1055.3 1330.5,1051.3 1330.8,1047.3 1331,1043.3 1331.3,1039.4 1331.6,1035.4 1331.9,1031.4 1332.2,1027.4 1332.5,1023.4 1332.8,1019.4 1333,1015.4 1333.3,1011.4 1333.6,1007.4 1333.9,1003.4 1334.2,999.5 1334.5,995.5 1334.8,991.5 1335.2,987.5 1335.5,983.5 1335.8,979.5 1336.1,975.5 1336.5,971.5 1336.8,967.6 1337.1,963.6 1337.4,959.6 1337.8,955.6 1338.1,951.6 1338.5,947.6 1339,943.7 1339.6,939.7 1340.3,935.8 1341,931.8 1341.8,927.9 1342.5,924 1343.2,920 1343.9,916.1 1344.6,912.2 1345.4,908.2 1346,904.3 1346.6,900.3 1347.1,896.4 1347.5,892.4 1347.8,888.4 1348.1,884.4 1348.4,880.4 1348.7,876.4 1349,872.5 1349.3,868.5 1349.6,864.5 1349.9,860.5 1350.2,856.5 1350.6,852.5 1350.9,848.5 1351.2,844.5 1351.5,840.5 1351.8,836.6 1352,832.6 1352.3,828.6 1352.6,824.6 1352.9,820.6 1353.1,816.6 1353.4,812.6 1353.7,808.6 1353.9,804.6 1354.2,800.6 1354.5,796.6 1354.7,792.7 1355,788.7 1355.3,784.7 1355.5,780.7 1355.8,776.7 1356,772.7 1356.3,768.7 1356.6,764.7 1356.8,760.7 1357.1,756.7 1357.3,752.7 1357.6,748.7 1357.9,744.8 1358.1,740.8 1358.4,736.8 1358.6,732.8 1358.9,728.8 1359.2,724.8 1359.4,720.8 1359.7,716.8 1359.9,712.8 1360.2,708.8 1360.4,704.8 1360.7,700.8 1360.9,696.8 1361.2,692.9 1361.4,688.9 1361.7,684.9 1361.9,680.9 1362.1,676.9 1362.4,672.9 1362.6,668.9 1362.9,664.9 1363.1,660.9 1363.4,656.9 1363.6,652.9 1363.9,648.9 1364.2,644.9 1364.4,640.9 1364.7,637 1365,633 1365.2,629 1365.5,625 1365.8,621 1366.1,617 1366.4,613 1366.6,609 1366.9,605 1367.2,601 1367.5,597 1367.8,593.1 1368.1,589.1 1368.4,585.1 1368.7,581.1 1369,577.1 1369.4,573.1 1369.7,569.1 1370,565.1 1370.4,561.2 1370.7,557.2 1371,553.2 1371.4,549.2 1371.7,545.2 1372,541.2 1372.3,537.2 1372.5,533.2 1372.8,529.3 1373.1,525.3 1373.3,521.3 1373.6,517.3 1373.8,513.3 1374,509.3 1374.1,505.3 1374.3,501.3 1374.4,497.3 1374.6,493.3 1374.8,489.3 1375,485.3 1375.2,481.3 1375.5,477.3 1375.9,473.3 1376.2,469.4 1376.6,465.4 1376.9,461.4 1377.3,457.4 1377.5,453.4 1377.8,449.4 1378,445.4 1378.2,441.4 1378.3,437.4 1378.5,433.4 1378.7,429.4 1378.9,425.4 1379.2,421.5 1379.5,417.5 1380,413.5 1380.4,409.5 1380.9,405.6 1381.4,401.6 1381.9,397.6 1382.3,393.6 1382.6,389.7 1382.9,385.7 1383.1,381.7 1383.3,377.7 1383.5,373.7 1383.6,369.7 1383.8,365.7 1384,361.7 1384.2,357.7 1384.4,353.7 1384.7,349.7 1385,345.7 1385.4,341.8 1385.8,337.8 1386.2,333.8 1386.6,329.8 1387,325.8 1387.4,321.9 1387.8,317.9 1388.2,313.9 1388.6,309.9 1388.9,305.9 1389.3,301.9 1389.7,298 1390.1,294 1390.5,290 1390.8,286 1391.2,282 1391.6,278.1 1392,274.1 1392.5,270.1 1392.9,266.1 1393.4,262.2 1393.9,258.2 1394.5,254.2 1395,250.3 1395.5,246.3 1396.1,242.3 1396.6,238.4 1397.1,234.4 1397.5,230.4 1398,226.4 1398.4,222.5 1398.8,218.5 1399.3,214.5 1399.7,210.5 1400.1,206.6 1400.6,202.6 1401,198.6 1401.5,194.6 1401.9,190.7 1402.4,186.7 1402.8,182.7 1403.3,178.7 1403.8,174.8 1404.5,170.8 1405.1,166.9 1405.9,163 1406.6,159 1407.4,155.1 1408.2,151.2 1409,147.3 1410,143.4 1411.1,139.5 1412.2,135.7 1413.4,131.9 1414.6,128.1 1415.8,124.3 1417.2,120.5 1418.8,116.9 1420.4,113.3 1422.3,109.7 1424.2,106.3 1426.5,103.1 1429,100.1 1432,97.6 1435.2,95.5 1438.6,93.9 1442.4,93 1446.2,92.6 1450.2,92.6 1454.1,92.9 1458.1,93.3 1462.1,93.7 1466,93.9 1470,94.1 1474,94.2 1478,94.3 1482,94.3 1486,94.4 1490,94.4 1494,94.3 1498,94.2 1502,94.1 1506,94 1510,93.9 1514,93.8 1518,93.7 1522,93.5 1526,93.4 1530,93.3 1534,93.2 1538,93.1 1542,92.9 1546,92.8 1550,92.7 1554,92.5 1558,92.4 1562,92.3 1566,92.1 1570,92 1574,91.9 1578,91.7 1582,91.6 1586,91.5 1590,91.3 1594,91.2 1598,91.1 1602,91 1606,90.9 1610,90.9 1614,90.8 1618,90.7 1622,90.7 1626,90.6 1630,90.6 1634,90.5 1638,90.4 1642,90.4 1646,90.3 1650,90.3 1654,90.2 1658,90.1 1662,90.1 1666,90 1670,90 1674,89.9 1678,89.8 1682,89.8 1686,89.7 1690,89.7 1694,89.6 1698,89.5 1702,89.5 1706,89.4 1710,89.4 1714,89.4 1718,89.3 1722,89.3 1726,89.2 1730,89.2 1734,89.2 1738,89.1 1742,89.1 1746,89 1750,89 1754,89 1758,88.9 1762,88.9 1766,88.8 1770,88.8 1774,88.8 1778,88.7 1782,88.7 1786,88.6 1790,88.6 1794,88.6 1798,88.5 1802,88.5 1806,88.4 1810,88.4 1814,88.4 1818,88.3 1822,88.3 1826,88.2 1830,88.2 1834,88.2 1838,88.1 1842,88.1 1846,88 1850,88" stroke-dasharray="25.6 36.2" stroke-dashoffset="44.0"/>
<path d="M310,118.5 310.2,114.4 310.4,110.3 311.2,106.3 312.6,102.5 314.8,99.3 318.3,97.1 320,96 323.9,95 327.8,94.1 331.7,93.3 335.7,92.7 339.6,92.2 343.6,91.9 347.6,91.8 351.6,91.7 355.7,91.6 359.7,91.5 363.7,91.6 367.7,91.6 371.7,91.6 375.7,91.7 379.7,91.7 383.7,91.8 387.7,91.8 391.7,91.9 395.7,91.9 399.7,92 403.8,92.1 407.8,92.3 411.8,92.4 415.8,92.6 419.8,92.7 423.8,92.9 427.8,93 431.8,93.2 435.8,93.4 439.8,93.6 443.8,94 447.8,94.5 451.7,95 455.7,95.5 459.7,95.9 463.7,96.3 467.7,96.6 471.7,96.8 475.7,96.5 479.6,96.1 483.6,95.7 487.6,95.2 491.6,94.8 495.6,94.4 499.6,94.1 503.6,94 507.6,94 511.6,94 515.6,94 519.6,94.1 523.6,94.6 527.1,95.8 529.9,98.3 532.3,101.5 534.3,104.9 536,108.5 537.4,112.3 538.7,116.1 540.1,119.8 541.3,123.7 542.1,127.6 542.7,131.5 543.2,135.5 543.7,139.5 544.2,143.4 544.7,147.4 545.2,151.4 545.6,155.4 546.1,159.4 546.5,163.4 546.8,167.4 547.2,171.3 547.5,175.3 547.9,179.3 548.2,183.3 548.6,187.3 548.9,191.3 549.3,195.3 549.6,199.3 550,203.3 550.3,207.3 550.5,211.3 550.8,215.3 551.1,219.3 551.3,223.3 551.6,227.3 551.9,231.3 552.1,235.3 552.4,239.3 552.6,243.3 552.9,247.3 553.2,251.3 553.4,255.3 553.7,259.3 553.9,263.3 554.2,267.3 554.5,271.3 554.7,275.3 555,279.3 555.3,283.3 555.5,287.3 555.8,291.3 556.1,295.3 556.3,299.3 556.6,303.3 556.8,307.3 557.1,311.3 557.3,315.3 557.5,319.3 557.7,323.3 557.9,327.3 558.1,331.3 558.3,335.3 558.5,339.3 558.7,343.3 558.9,347.3 559.1,351.3 559.3,355.3 559.5,359.3 559.7,363.3 559.9,367.3 560.2,371.3 560.4,375.4 560.6,379.4 560.9,383.4 561.1,387.4 561.4,391.4 561.6,395.4 561.9,399.4 562.1,403.4 562.3,407.4 562.6,411.4 562.8,415.4 563.1,419.4 563.3,423.4 563.6,427.4 563.9,431.4 564.2,435.4 564.5,439.4 564.8,443.4 565.1,447.4 565.3,451.4 565.6,455.4 565.9,459.4 566.2,463.4 566.5,467.3 566.8,471.3 567.1,475.3 567.4,479.3 567.7,483.3 568,487.3 568.5,491.3 569.2,495.2 570.1,499.1 571.1,503 572.2,506.9 573.3,510.7 574.4,514.6 575,516.5 576,512.6 576.9,508.7 577.8,504.8 578.6,500.9 579.2,496.9 579.8,493 580.4,489 581,485.1 581.5,481.1 581.9,477.1 582.3,473.1 582.6,469.1 583,465.2 583.3,461.2 583.7,457.2 584.1,453.2 584.4,449.2 584.8,445.2 585.1,441.2 585.4,437.2 585.7,433.2 586,429.2 586.3,425.3 586.6,421.3 586.9,417.3 587.2,413.3 587.5,409.3 587.8,405.3 588.1,401.3 588.4,397.3 588.7,393.3 589,389.3 589.3,385.3 589.6,381.3 589.9,377.3 590.2,373.3 590.5,369.4 590.8,365.4 591.1,361.4 591.4,357.4 591.7,353.4 592,349.4 592.3,345.4 592.6,341.4 592.9,337.4 593.2,333.4 593.5,329.4 593.8,325.4 594.1,321.4 594.4,317.4 594.7,313.5 595,309.5 595.3,305.5 595.6,301.5 595.9,297.5 596.2,293.5 596.5,289.5 596.8,285.5 597.1,281.5 597.4,277.5 597.7,273.5 598,269.5 598.5,265.6 598.9,261.6 599.4,257.6 599.8,253.6 600.3,249.6 600.7,245.7 601.2,241.7 601.6,237.7 602.1,233.7 602.6,229.8 603.1,225.8 603.6,221.8 604.1,217.8 604.7,213.9 605.2,209.9 605.8,205.9 606.3,202 606.9,198 607.4,194.1 608.1,190.1 608.9,186.2 609.7,182.3 610.5,178.3 611.3,174.4 612.2,170.5 613,166.6 613.8,162.7 614.7,158.8 615.7,154.9 616.8,151.1 618,147.2 619.1,143.4 620.3,139.5 621.6,135.8 623.4,132.3 625.6,129 627.9,125.7 630.3,122.5 633,119.6 636.2,117.2 639.4,114.9 642.7,112.6 646.2,110.7 649.9,109.3 653.7,108.2 657.6,107.2 661.5,106.1 665.3,105 669.2,104 673.1,103.2 677,102.5 681,101.8 684.9,101.2 688.9,100.5 692.8,99.9 696.8,99.2 700.7,98.5 704.7,97.8 708.6,97.1 712.5,96.3 716.5,95.6 720.4,95.1 724.4,94.9 728.4,94.8 732.4,94.7 736.4,94.6 740.4,94.4 744.4,94.3 748.4,94.2 752.4,94.1 756.4,94 760.4,93.9 764.5,93.9 768.5,93.9 772.5,94 776.5,94.1 780.5,94.1 784.5,94.2 788.5,94.3 792.5,94.3 796.5,94.4 800.5,94.5 804.5,94.6 808.5,94.6 812.5,94.7 816.5,94.8 820.5,94.9 824.5,95.1 828.5,95.4 832.5,95.8 836.4,96.2 840.4,96.6 844.4,97 848.4,97.4 852.4,97.8 856.4,98.2 860.3,98.6 864.3,99.3 868.1,100.4 871.8,101.8 875.4,103.5 878.9,105.4 882.4,107.5 885.8,109.6 889.2,111.7 892.6,113.7 896.1,115.7 899.7,117.5 903.3,119.3 906.8,121.1 910.4,122.9 914,124.6 917.6,126.3 921.3,127.9 925,129.5 928.6,131.3 931.8,133.5 934.7,136.2 937.5,139 940.3,141.9 942.9,144.9 945.3,148.1 947.5,151.5 949.8,154.7 952.5,157.6 955.5,160.2 958.7,162.1 961.8,161.9 964.9,159.8 967.9,157.3 970.7,154.4 973.3,151.3 975.8,148.3 978.6,145.4 981.6,142.8 984.8,140.4 988.1,138.7 991.9,138.3 995.9,138.6 999.8,139.1 1003.8,139.8 1007.7,140.6 1011.6,141.5 1015.6,142.1 1019.5,142.3 1023.5,142.3 1027.5,142.2 1031.5,142.1 1035.5,142 1039.5,142 1043.5,142.1 1047.1,143 1050.2,145.2 1053.1,147.9 1055.7,150.9 1057.8,154.2 1059.1,157.9 1060.3,161.7 1061.5,165.6 1062.6,169.4 1063.8,173.2 1065,177 1066.2,180.9 1067.3,184.7 1068.5,188.5 1069.6,192.4 1070.8,196.2 1072.2,199.9 1073.9,203.6 1075.7,207.1 1077.6,210.3 1079.7,211.5 1082.1,209.7 1084.6,206.7 1086.9,203.4 1088.8,199.9 1090.4,196.3 1092,192.6 1093.7,189 1095.4,185.4 1097.4,181.9 1099.5,178.5 1101.6,175.1 1103.7,171.7 1106,168.4 1108.5,165.3 1111.2,162.3 1113.8,159.3 1116.5,156.3 1119.5,153.8 1122.8,151.6 1126.3,149.6 1129.8,147.7 1133.5,146.2 1137.3,145.1 1141.2,144.2 1145.1,143.3 1149,142.5 1152.9,141.7 1156.9,141.1 1160.9,140.7 1164.8,140.2 1168.8,139.8 1172.8,139.3 1176.8,139.1 1180.8,139 1184.8,139 1188.8,139 1192.8,139 1196.8,139 1200.8,138.9 1204.7,138.4 1208.5,137.3 1212.3,135.9 1216,134.5 1219.8,133.2 1223.7,132.3 1227.6,131.6 1231.6,130.9 1235.5,130.3 1239.5,129.6 1243.4,129.1 1247.4,128.8 1251.4,128.7 1255.4,128.7 1259.4,128.8 1263.3,129.5 1267.1,130.7 1270.8,132 1274.5,133.6 1277.7,135.7 1280.6,138.5 1283.4,141.3 1286.2,144.2 1288.6,147.3 1290.7,150.7 1292.7,154.2 1294.6,157.7 1296.6,161.2 1298.5,164.7 1300.2,168.3 1301.8,172 1303.5,175.6 1305.1,179.3 1306.8,182.9 1308.5,186.6 1310.2,190.2 1312,193.8 1313.8,197.3 1315.6,200.9 1317.7,204.3 1320,207.6 1322.4,210.7 1324.9,213.3 1327.7,213.7 1330.6,211.7 1333.6,209.1 1336.3,206.2 1338.7,203 1341,199.7 1343.3,196.5 1345.6,193.2 1347.9,189.9 1350.1,186.6 1352.4,183.3 1354.6,179.9 1356.9,176.6 1359.3,173.5 1361.9,170.4 1364.5,167.4 1367.2,164.4 1369.8,161.4 1372.6,158.5 1375.5,155.7 1378.5,153.1 1381.5,150.4 1384.5,147.8 1387.5,145.2 1390.8,142.9 1394.1,140.7 1397.5,138.6 1400.9,136.4 1404.3,134.4 1407.9,132.5 1411.4,130.7 1415,128.9 1418.6,127.1 1422.2,125.4 1425.8,123.7 1429.5,122 1433.1,120.3 1436.7,118.6 1440.3,116.9 1444,115.2 1447.6,113.6 1451.3,112.1 1455.1,110.6 1458.8,109.1 1462.6,107.8 1466.4,106.9 1470.4,106.1 1474.3,105.3 1478.2,104.5 1482.1,103.7 1486.1,103 1490,102.5 1494,102 1498,101.5 1502,101.1 1505.9,100.6 1509.9,100.1 1513.9,99.7 1517.9,99.2 1521.9,98.8 1525.8,98.4 1529.8,98.1 1533.8,97.8 1537.8,97.6 1541.8,97.3 1545.8,97.1 1549.8,96.8 1553.8,96.6 1557.8,96.3 1561.8,96 1565.8,95.8 1569.8,95.5 1573.8,95.4 1577.8,95.2 1581.8,95.1 1585.8,95 1589.8,94.9 1593.8,94.7 1597.8,94.6 1601.8,94.5 1605.8,94.3 1609.8,94.2 1613.8,94.1 1617.8,94 1621.8,93.9 1625.8,93.8 1629.8,93.7 1633.8,93.7 1637.8,93.6 1641.8,93.5 1645.8,93.4 1649.8,93.4 1653.8,93.3 1657.8,93.2 1661.8,93.2 1665.9,93.1 1669.9,93 1673.9,92.9 1677.9,92.9 1681.9,92.8 1685.9,92.8 1689.9,92.7 1693.9,92.6 1697.9,92.6 1701.9,92.5 1705.9,92.4 1709.9,92.4 1713.9,92.3 1717.9,92.3 1721.9,92.2 1725.9,92.1 1729.9,92.1 1733.9,92 1737.9,91.9 1741.9,91.8 1745.9,91.7 1749.9,91.6 1753.9,91.5 1757.9,91.5 1761.9,91.4 1765.9,91.3 1769.9,91.2 1773.9,91.1 1777.9,91 1781.9,90.9 1785.9,90.8 1790,90.7 1794,90.6 1798,90.5 1802,90.5 1806,90.4 1810,90.3 1814,90.2 1818,90.1 1822,90.1 1826,90 1830,89.9 1834,89.8 1838,89.7 1842,89.7 1846,89.6 1850,89.5" stroke-width="8.5"/>
<path d="M310,66.8V71.2"/>
</g>
<g fill="none" stroke="#000" stroke-width="8">
<rect x="176" y="38" width="1745" height="1406" stroke-linejoin="miter"/>
<path stroke-linecap="round" d="M230.5,1444 V1417 M366.9,1444 V1431 M503.2,1444 V1417 M639.5,1444 V1431 M775.8,1444 V1417 M912.2,1444 V1431 M1048.5,1444 V1417 M1184.8,1444 V1431 M1321.2,1444 V1417 M1457.5,1444 V1431 M1593.8,1444 V1417 M1730.1,1444 V1431 M1866.5,1444 V1417 M176,86.3 H203 M176,183.3 H190 M176,280.4 H203 M176,377.4 H190 M176,474.5 H203 M176,571.5 H190 M176,668.5 H203 M176,765.6 H190 M176,862.6 H203 M176,959.7 H190 M176,1056.7 H203 M176,1153.7 H190 M176,1250.8 H203 M176,1347.8 H190"/>
</g>
<g class="b" font-size="80" text-anchor="middle">
<text transform="translate(230.5,1533) scale(.963,1.03)">0</text>
<text transform="translate(503.7,1533) scale(.963,1.03)">100</text>
<text transform="translate(776.3,1533) scale(.963,1.03)">200</text>
<text transform="translate(1049.0,1533) scale(.963,1.03)">300</text>
<text transform="translate(1321.7,1533) scale(.963,1.03)">400</text>
<text transform="translate(1594.3,1533) scale(.963,1.03)">500</text>
<text transform="translate(1867.0,1533) scale(.963,1.03)">600</text>
</g>
<g class="b" font-size="80">
<text transform="translate(671.9,1672.5) scale(.967,1.01)">Temperature</text>
<text font-size="64" transform="translate(1154,1672.8) scale(.91,1.018)">(</text>
<text transform="translate(1177,1636) scale(.98,1)">o</text>
<text transform="translate(1222.9,1672.3) scale(.965,1.02)">C</text>
<text font-size="64" transform="translate(1281.1,1672.8) scale(.9,1.018)">)</text>
</g>
<text class="b" font-size="80" transform="translate(96,1324.3) rotate(-90) scale(.9937,1.02)" id="yl">Derivative mass loss ( % / min )</text>
<rect x="277.5" y="931.5" width="424" height="429" fill="#fff" stroke="#000" stroke-width="3"/>
<g fill="#000">
<rect x="296.4" y="987.0" width="158.8" height="8" rx="2.6"/>
<rect x="296.4" y="1069.0" width="33.6" height="8" rx="2.6"/>
<rect x="358.2" y="1069.0" width="33.6" height="8" rx="2.6"/>
<rect x="420.0" y="1069.0" width="33.6" height="8" rx="2.6"/>
<rect x="296.2" y="1152.0" width="12.2" height="8" rx="3.4"/>
<rect x="333.1" y="1152.0" width="12.2" height="8" rx="3.4"/>
<rect x="370.0" y="1152.0" width="12.2" height="8" rx="3.4"/>
<rect x="406.9" y="1152.0" width="12.2" height="8" rx="3.4"/>
<rect x="443.8" y="1152.0" width="12.2" height="8" rx="3.4"/>
<rect x="296.2" y="1234.0" width="40.0" height="8" rx="2.6"/>
<rect x="348.9" y="1234.0" width="12.2" height="8" rx="3.4"/>
<rect x="373.6" y="1234.0" width="40.0" height="8" rx="2.6"/>
<rect x="426.3" y="1234.0" width="12.2" height="8" rx="3.4"/>
<rect x="296.2" y="1317.0" width="9.0" height="8" rx="3.4"/>
<rect x="309.8" y="1317.0" width="9.0" height="8" rx="3.4"/>
<rect x="323.3" y="1317.0" width="9.0" height="8" rx="3.4"/>
<rect x="336.9" y="1317.0" width="9.0" height="8" rx="3.4"/>
<rect x="350.4" y="1317.0" width="9.0" height="8" rx="3.4"/>
<rect x="363.9" y="1317.0" width="9.0" height="8" rx="3.4"/>
<rect x="377.5" y="1317.0" width="9.0" height="8" rx="3.4"/>
<rect x="391.1" y="1317.0" width="9.0" height="8" rx="3.4"/>
<rect x="404.6" y="1317.0" width="9.0" height="8" rx="3.4"/>
<rect x="418.1" y="1317.0" width="9.0" height="8" rx="3.4"/>
<rect x="431.7" y="1317.0" width="9.0" height="8" rx="3.4"/>
<rect x="445.2" y="1317.0" width="9.0" height="8" rx="3.4"/>
</g>
<g font-size="67">
<text transform="translate(469.8,1013.7) scale(1,1.03)">Al</text>
<text transform="translate(469.8,1095.8) scale(1,1.03)">G44/14</text>
<text transform="translate(469.8,1177.9) scale(1,1.03)">F8</text>
<text transform="translate(469.8,1260.0) scale(1,1.03)">F4</text>
<text transform="translate(469.8,1342.1) scale(1,1.03)">C25</text>
</g>
</svg></body></html>
